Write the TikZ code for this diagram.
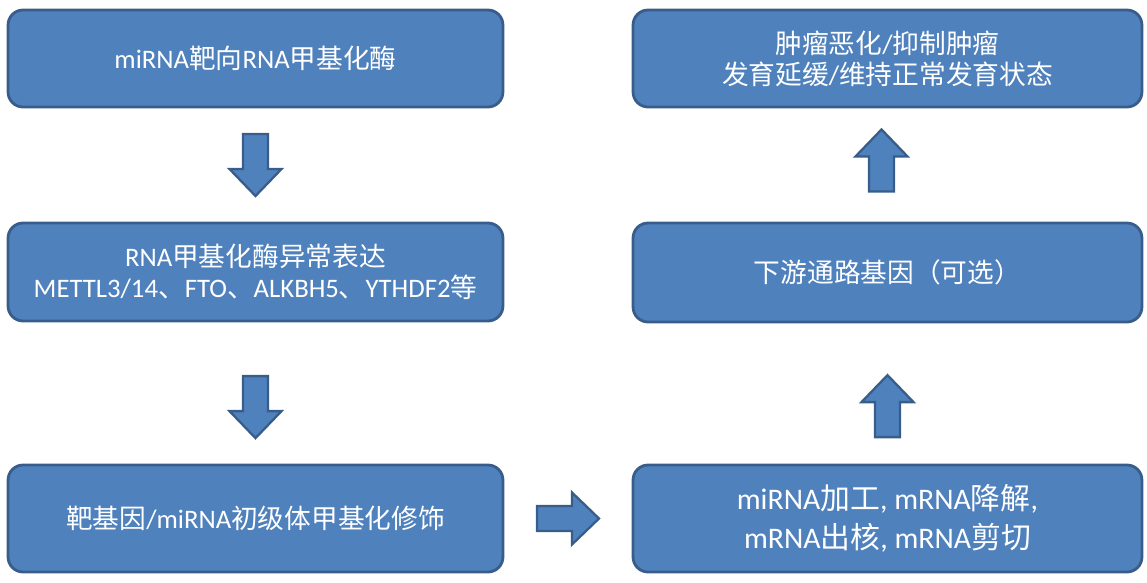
\documentclass[tikz,border=0pt]{standalone}
\usepackage{fontspec}
\setmainfont{Carlito}
\newfontfamily\cjk{Noto Sans CJK SC}
\usetikzlibrary{calc}

\definecolor{boxblue}{HTML}{4F81BD}
\definecolor{boxedge}{HTML}{385D8A}

% Chinese text inside a box
\newcommand{\zh}[1]{{\cjk #1}}

\begin{document}
\begin{tikzpicture}[x=0.02cm, y=-0.02cm,
    stepbox/.style={rounded corners=0.3cm, fill=boxblue, draw=boxedge, line width=1.6pt,
      text=white, align=center, inner sep=0pt, font=\fontsize{15.2}{17.6}\selectfont},
    barrow/.style={fill=boxblue, draw=boxedge, line width=1.3pt, line join=miter}]

      \useasboundingbox (0,0) rectangle (1147,582);

      % Constants (arrow size, in pixels)
      \def\len{31}   % half length of an arrow
      \def\head{4}   % where the head starts
      \def\shaft{12.5}
      \def\wing{26}

      % Block arrow pointing down, moved to #1 and turned by #2
      \newcommand{\blockarrow}[2]{%
        \begin{scope}[shift={(#1)}, rotate=#2]
          \draw[barrow] (-\shaft,-\len) -- (\shaft,-\len) -- (\shaft,\head) -- (\wing,\head)
            -- (0,\len) -- (-\wing,\head) -- (-\shaft,\head) -- cycle;
        \end{scope}}

      % Left column
      \node[stepbox, minimum width=9.9cm, minimum height=1.94cm] (mirna) at (255.5,58.5)
        {miRNA\zh{靶向}RNA\zh{甲基化酶}};
      \node[stepbox, minimum width=9.9cm, minimum height=1.96cm] (enzyme) at (255.5,272)
        {RNA\zh{甲基化酶异常表达}\\METTL3/14\zh{、}FTO\zh{、}ALKBH5\zh{、}YTHDF2\zh{等}};
      \node[stepbox, minimum width=9.9cm, minimum height=2.14cm] (modif) at (255.5,518.5)
        {\zh{靶基因}/miRNA\zh{初级体甲基化修饰}};

      % Right column
      \node[stepbox, minimum width=10.18cm, minimum height=1.94cm] (tumor) at (887.5,58.5)
        {\zh{肿瘤恶化}/\zh{抑制肿瘤}\\\zh{发育延缓}/\zh{维持正常发育状态}};
      \node[stepbox, minimum width=10.18cm, minimum height=1.98cm] (pathway) at (887.5,272.5)
        {\zh{下游通路基因（可选）}};
      \node[stepbox, minimum width=10.18cm, minimum height=2.14cm,
        font=\fontsize{17}{22}\selectfont] (process) at (887.5,518.5)
        {miRNA\zh{加工}, mRNA\zh{降解},\\mRNA\zh{出核}, mRNA\zh{剪切}};

      % Arrows between the boxes
      \coordinate (a1) at ($(mirna.south)!0.5!(enzyme.north)$);
      \coordinate (a2) at ($(enzyme.south)!0.6!(modif.north)$);
      \coordinate (a3) at ($(modif.east)!0.5!(process.west)$);
      \coordinate (a4) at ($(process.north)!0.41!(pathway.south)$);
      \coordinate (a5) at ($(pathway.north)!0.54!(tumor.south) + (-6,0)$);

      \blockarrow{a1}{0}
      \blockarrow{a2}{0}
      \blockarrow{a3}{90}
      \blockarrow{a4}{180}
      \blockarrow{a5}{180}

    \end{tikzpicture}
\end{document}
